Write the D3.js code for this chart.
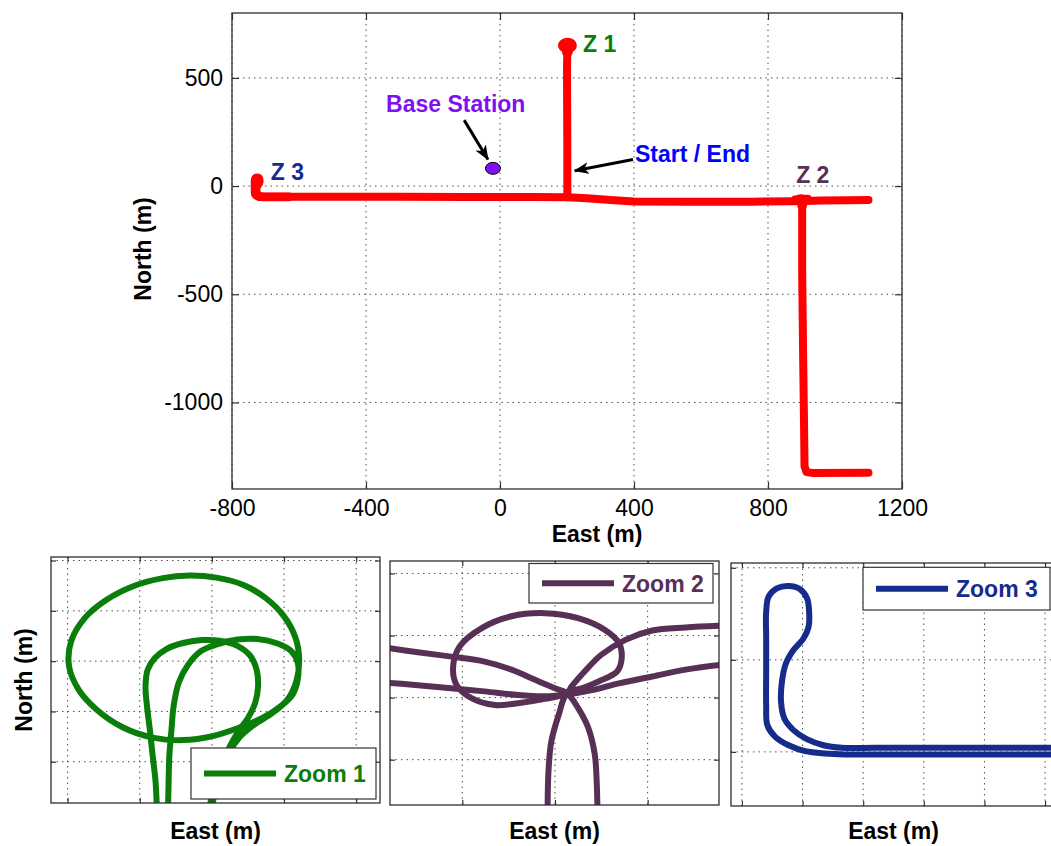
<!DOCTYPE html>
<html>
<head>
<meta charset="utf-8">
<script src="https://cdn.jsdelivr.net/npm/d3@7"></script>
<style>
  body { margin: 0; background: #fff; }
  svg { display: block; }
  text { font-family: "Liberation Sans", Arial, Helvetica, sans-serif; }
</style>
</head>
<body>
<svg id="chart" width="1051" height="846"></svg>
<script>
// ---------- tick values ----------
const mainEastTicks = [-800, -400, 0, 400, 800, 1200];
const mainNorthTicks = [-1000, -500, 0, 500];
const zoom1EastTicks = [185, 195, 205, 215, 225];
const zoom1NorthTicks = [630, 640, 650, 660, 670];
const zoom2EastTicks = [890, 900, 910];
const zoom2NorthTicks = [-80, -70, -60, -50];
const zoom3EastTicks = [-740, -720, -700, -680, -660, -640];
const zoom3NorthTicks = [-50, 0, 50];

// ---------- surveyed route, [East, North] in metres ----------
const routeMain = [[-718,-49.5],[-500,-49.5],[-300,-49.5],[-100,-50],[100,-50.5],[200,-51.5],[260,-56],[330,-64],[400,-71],[550,-72],[750,-72],[880,-70.5],[960,-67],[1040,-65],[1100,-64]];
const routeZ1 = [[201,-51],[201,150],[200.5,350],[200,550],[201,622]];
const routeZ2 = [[902,-70],[902,-400],[905,-800],[908,-1150],[909,-1295],[915,-1322],[935,-1326],[1100,-1325]];

// turning area Z1 (two passes)
const zoom1PassA = [[197.4,619.2],[197.2,625.9],[196.8,631.1],[196.4,636.4],[196.0,641.1],[195.8,645.0],[196.1,648.3],[197.1,650.6],[198.7,652.4],[201.0,653.6],[203.7,654.2],[206.3,654.0],[208.6,653.0],[210.3,651.1],[211.2,648.3],[211.4,645.0],[211.0,641.7],[210.0,638.7],[208.7,636.1],[207.5,633.1],[206.4,629.5],[205.5,625.5],[204.8,621.9],[204.4,619.2]];
const zoom1PassB = [[198.9,619.2],[199.0,625.9],[199.1,631.1],[199.4,636.4],[199.7,641.1],[200.4,645.7],[201.7,649.3],[203.5,652.0],[205.8,653.4],[208.6,654.3],[211.3,654.4],[214.1,653.5],[216.0,652.0],[216.9,649.7],[216.9,646.4],[216.2,643.4],[214.6,641.1],[212.0,638.7],[208.8,636.8],[205.1,635.1],[201.0,634.3],[196.8,634.8],[192.7,636.8],[189.0,640.4],[186.5,644.4],[185.2,649.0],[185.5,654.0],[187.4,658.6],[190.4,662.2],[194.1,664.9],[198.2,666.5],[201.9,667.0],[205.6,666.6],[209.3,665.2],[212.5,662.5],[215.0,658.9],[216.6,654.6],[217.1,650.3],[216.7,646.0],[215.5,642.4],[213.4,639.7],[210.9,637.4],[208.8,634.8],[207.4,631.8],[206.3,627.8],[205.4,623.9],[204.9,619.2]];

// junction Z2 (three passes)
const zoom2Pass1 = [[881.0,-61.8],[885.2,-62.7],[888.8,-63.4],[892.4,-64.2],[895.3,-65.5],[897.8,-67.1],[900.0,-68.5],[901.3,-69.3],[902.5,-71.7],[903.6,-74.9],[904.3,-79.2],[904.5,-83.5],[904.6,-89.0]];
const zoom2Pass2 = [[899.2,-89.0],[899.3,-81.9],[899.6,-77.1],[900.4,-72.8],[901.3,-69.3],[902.9,-68.5],[904.7,-67.4],[906.7,-65.8],[907.2,-63.7],[906.9,-61.2],[905.4,-59.1],[902.5,-57.2],[898.9,-56.4],[895.3,-56.9],[892.1,-58.8],[889.7,-61.8],[889.0,-65.3],[889.4,-68.0],[891.0,-70.1],[893.5,-71.2],[896.0,-70.9],[898.9,-70.2],[901.3,-69.3],[901.8,-68.2],[903.2,-65.8],[905.0,-63.1],[907.6,-60.7],[910.5,-59.2],[914.1,-58.7],[918.5,-58.4]];
const zoom2Pass3 = [[918.5,-64.6],[914.1,-65.5],[910.5,-66.6],[906.9,-67.7],[904.0,-68.8],[901.3,-69.5],[898.9,-69.8],[896.0,-69.6],[892.4,-69.0],[888.8,-68.5],[885.2,-68.0],[881.0,-67.5]];

// turning hook Z3
const zoom3Pass = [[-630.0,-51.4],[-657.6,-51.4],[-679.6,-51.4],[-696.1,-51.4],[-706.0,-51.4],[-712.5,-50.9],[-719.1,-49.6],[-724.6,-46.4],[-729.0,-41.8],[-731.6,-35.5],[-732.0,-24.6],[-732.0,-6.5],[-732.0,11.6],[-732.0,26.1],[-731.2,34.3],[-728.5,38.8],[-724.6,40.1],[-720.8,38.4],[-718.5,33.4],[-717.8,25.2],[-718.0,18.0],[-719.7,11.6],[-723.0,5.3],[-725.5,-2.0],[-726.8,-11.9],[-727.1,-22.8],[-726.0,-31.9],[-723.0,-38.2],[-718.6,-43.1],[-713.1,-46.4],[-707.1,-47.8],[-696.1,-47.8],[-679.6,-47.8],[-657.6,-47.8],[-630.0,-47.8]];

const legendLabels = ["Zoom 1", "Zoom 2", "Zoom 3"];

// annotations on the overview map
const annotationText = ["Z 1", "Z 2", "Z 3", "Base Station", "Start / End"];
const annotationEast = [248, 884, -684, -340, 403];
const annotationNorth = [620, 14, 28, 342, 113];
const baseStation = [-21, 82];
const arrowTail = [[-107, 305], [397, 123]];
const arrowTip = [[-36, 123], [223, 71]];

// ---------- styling ----------
const FONT = 23;
const zoomColors = ["#0a7d0a", "#583055", "#162c8c"];
const annotationColors = ["#0a7d0a", "#583055", "#162c8c", "#7f10f5", "#0000ff"];
const routeColor = "#ff0000";

const svg = d3.select("#chart");
svg.append("rect").attr("width", 1051).attr("height", 846).attr("fill", "#fff");

const defs = svg.append("defs");
defs.append("marker")
  .attr("id", "arrowhead")
  .attr("markerUnits", "userSpaceOnUse")
  .attr("viewBox", "0 0 15 12")
  .attr("markerWidth", 15).attr("markerHeight", 12)
  .attr("refX", 14).attr("refY", 6)
  .attr("orient", "auto")
  .append("path").attr("d", "M0,0 L15,6 L0,12 L4,6 Z").attr("fill", "#000");

let clipCount = 0;

// draws grid, inward ticks on all four sides and the box; returns the clipped data layer
function axesFrame(box, x, y, eastTicks, northTicks, tickLen, withLabels) {
  const g = svg.append("g").attr("transform", `translate(${box.x},${box.y})`);
  const grid = g.append("g")
    .attr("stroke", "#505050").attr("stroke-width", 1).attr("stroke-dasharray", "1.5,4");
  grid.selectAll("line.v").data(eastTicks).join("line").attr("class", "v")
    .attr("x1", d => x(d)).attr("x2", d => x(d)).attr("y1", 0).attr("y2", box.h);
  grid.selectAll("line.h").data(northTicks).join("line").attr("class", "h")
    .attr("y1", d => y(d)).attr("y2", d => y(d)).attr("x1", 0).attr("x2", box.w);

  const id = "clip" + (clipCount++);
  defs.append("clipPath").attr("id", id)
    .append("rect").attr("width", box.w).attr("height", box.h);
  const layer = g.append("g").attr("clip-path", `url(#${id})`);

  const fmt = withLabels ? (d => String(d)) : (() => "");
  const none = () => "";
  const axes = [
    [d3.axisBottom(x).tickValues(eastTicks).tickFormat(fmt).tickPadding(11), `translate(0,${box.h})`],
    [d3.axisTop(x).tickValues(eastTicks).tickFormat(none), "translate(0,0)"],
    [d3.axisLeft(y).tickValues(northTicks).tickFormat(fmt).tickPadding(9), "translate(0,0)"],
    [d3.axisRight(y).tickValues(northTicks).tickFormat(none), `translate(${box.w},0)`]
  ];
  const frameLayer = g.append("g");
  axes.forEach(([ax, tr]) => {
    const a = frameLayer.append("g").attr("transform", tr)
      .call(ax.tickSize(-tickLen).tickSizeOuter(0));
    a.select(".domain").remove();
    a.attr("font-size", FONT).attr("font-family", null).attr("color", "#000");
    a.selectAll(".tick line").attr("stroke", "#333").attr("stroke-width", 1.2);
  });
  frameLayer.append("rect").attr("width", box.w).attr("height", box.h)
    .attr("fill", "none").attr("stroke", "#2e2e2e").attr("stroke-width", 1.3);
  return { g, layer, frameLayer };
}

// ---------- overview map ----------
const mainBox = { x: 232, y: 13, w: 670, h: 476 };
const mx = d3.scaleLinear().domain([-800, 1200]).range([0, mainBox.w]);
const my = d3.scaleLinear().domain([-1400, 800]).range([mainBox.h, 0]);
const main = axesFrame(mainBox, mx, my, mainEastTicks, mainNorthTicks, 7, true);

const mainLine = d3.line().x(d => mx(d[0])).y(d => my(d[1]));
const mainSmooth = d3.line().x(d => mx(d[0])).y(d => my(d[1])).curve(d3.curveCatmullRom.alpha(0.5));
const routeLayer = main.layer.append("g")
  .attr("fill", "none").attr("stroke", routeColor).attr("stroke-width", 8)
  .attr("stroke-linejoin", "round").attr("stroke-linecap", "round");
[routeMain, routeZ1, routeZ2].forEach(r => routeLayer.append("path").attr("d", mainLine(r)));
[zoom1PassA, zoom1PassB, zoom2Pass1, zoom2Pass2, zoom2Pass3, zoom3Pass]
  .forEach(r => routeLayer.append("path").attr("d", mainSmooth(r)));

// base station
main.layer.append("ellipse")
  .attr("cx", mx(baseStation[0])).attr("cy", my(baseStation[1]))
  .attr("rx", 7.5).attr("ry", 6)
  .attr("fill", "#7f10f5").attr("stroke", "#000").attr("stroke-width", 1);

// arrows
main.g.append("g").selectAll("line").data(arrowTail).join("line")
  .attr("x1", d => mx(d[0])).attr("y1", d => my(d[1]))
  .attr("x2", (d, i) => mx(arrowTip[i][0])).attr("y2", (d, i) => my(arrowTip[i][1]))
  .attr("stroke", "#000").attr("stroke-width", 3)
  .attr("marker-end", "url(#arrowhead)");

// text annotations
main.g.append("g").selectAll("text").data(annotationText).join("text")
  .attr("x", (d, i) => mx(annotationEast[i]))
  .attr("y", (d, i) => my(annotationNorth[i]))
  .attr("font-size", FONT).attr("font-weight", "bold")
  .attr("fill", (d, i) => annotationColors[i])
  .text(d => d);

// axis titles
svg.append("text").attr("x", 597).attr("y", 542).attr("text-anchor", "middle")
  .attr("font-size", FONT).attr("font-weight", "bold").text("East (m)");
svg.append("text").attr("transform", "translate(151,249) rotate(-90)").attr("text-anchor", "middle")
  .attr("font-size", FONT).attr("font-weight", "bold").text("North (m)");

// ---------- zoom panels ----------
const panels = [
  { x: 51, y: 557, w: 329, h: 246, east: [182.7, 228.3], north: [621.8, 670.7],
    eastTicks: zoom1EastTicks, northTicks: zoom1NorthTicks, passes: [zoom1PassA, zoom1PassB],
    legend: { right: 4, bottom: 4, w: 185, h: 51 } },
  { x: 390, y: 561, w: 329, h: 244, east: [882.2, 917.7], north: [-87.3, -48.0],
    eastTicks: zoom2EastTicks, northTicks: zoom2NorthTicks, passes: [zoom2Pass1, zoom2Pass2, zoom2Pass3],
    legend: { right: 6, top: 2.5, w: 184, h: 39.5 } },
  { x: 731, y: 563, w: 325, h: 243, east: [-743.6, -636.4], north: [-79.4, 52.6],
    eastTicks: zoom3EastTicks, northTicks: zoom3NorthTicks, passes: [zoom3Pass],
    legend: { right: 6, top: 4.3, w: 187, h: 42.7 } }
];

panels.forEach((p, i) => {
  const x = d3.scaleLinear().domain(p.east).range([0, p.w]);
  const y = d3.scaleLinear().domain(p.north).range([p.h, 0]);
  const f = axesFrame(p, x, y, p.eastTicks, p.northTicks, 5, false);
  const line = d3.line().x(d => x(d[0])).y(d => y(d[1])).curve(d3.curveCatmullRom.alpha(0.5));
  f.layer.append("g")
    .attr("fill", "none").attr("stroke", zoomColors[i]).attr("stroke-width", 6)
    .attr("stroke-linejoin", "round").attr("stroke-linecap", "round")
    .selectAll("path").data(p.passes).join("path").attr("d", d => line(d));

  // legend
  const L = p.legend;
  const lx = p.w - L.right - L.w;
  const ly = L.top !== undefined ? L.top : p.h - L.bottom - L.h;
  const lg = f.g.append("g").attr("transform", `translate(${lx},${ly})`);
  lg.append("rect").attr("width", L.w).attr("height", L.h)
    .attr("fill", "#fff").attr("stroke", "#333").attr("stroke-width", 1.2);
  lg.append("line").attr("x1", 13).attr("x2", 85).attr("y1", L.h / 2).attr("y2", L.h / 2)
    .attr("stroke", zoomColors[i]).attr("stroke-width", 6);
  lg.append("text").attr("x", 93).attr("y", L.h / 2).attr("dy", "0.36em")
    .attr("font-size", FONT).attr("font-weight", "bold").attr("fill", zoomColors[i])
    .text(legendLabels[i]);

  svg.append("text").attr("x", p.x + p.w / 2).attr("y", 839).attr("text-anchor", "middle")
    .attr("font-size", FONT).attr("font-weight", "bold").text("East (m)");
});

svg.append("text").attr("transform", `translate(32,${panels[0].y + panels[0].h / 2}) rotate(-90)`)
  .attr("text-anchor", "middle").attr("font-size", FONT).attr("font-weight", "bold").text("North (m)");
</script>
</body>
</html>
